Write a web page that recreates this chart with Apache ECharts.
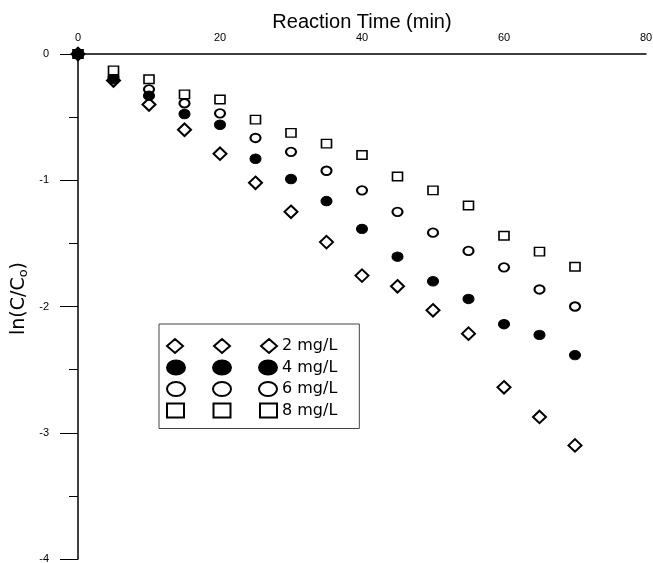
<!DOCTYPE html>
<html>
<head>
<meta charset="utf-8">
<script src="https://cdn.jsdelivr.net/npm/echarts@6/dist/echarts.min.js"></script>
<style>
  html, body { margin: 0; padding: 0; background: #fff; }
  #main { width: 653px; height: 563px; }
</style>
</head>
<body>
<div id="main"></div>
<script>
// reaction time (min)
var times = [0, 5, 10, 15, 20, 25, 30, 35, 40, 45, 50, 55, 60, 65, 70];
// ln(C/Co) for each dose
var dose2 = [0, -0.21, -0.40, -0.60, -0.79, -1.02, -1.25, -1.49, -1.755, -1.84, -2.03, -2.215, -2.64, -2.875, -3.10];
var dose4 = [0, -0.20, -0.33, -0.475, -0.56, -0.83, -0.99, -1.165, -1.385, -1.605, -1.80, -1.94, -2.14, -2.225, -2.385];
var dose6 = [0, -0.18, -0.28, -0.39, -0.47, -0.665, -0.775, -0.925, -1.08, -1.25, -1.415, -1.56, -1.69, -1.865, -2.00];
var dose8 = [0, -0.13, -0.20, -0.32, -0.36, -0.52, -0.625, -0.71, -0.80, -0.97, -1.08, -1.20, -1.44, -1.565, -1.685];
var names = ['2 mg/L', '4 mg/L', '6 mg/L', '8 mg/L'];

var chart = echarts.init(document.getElementById('main'));

function pairs(ys) {
  var out = [];
  for (var i = 0; i < times.length; i++) out.push([times[i], ys[i]]);
  return out;
}

// legend icons: same shape three times in a row, box 110 x 14
var ICON_W = 110, ICON_H = 14;
function triple(w, one) {
  var cs = [w / 2, ICON_W / 2, ICON_W - w / 2];
  var s = 'path://';
  for (var i = 0; i < 3; i++) s += one(cs[i], w);
  return s;
}
var diamondIcon = triple(16, function (c, w) {
  var h = w / 2;
  return 'M' + c + ' 0L' + (c + h) + ' 7L' + c + ' 14L' + (c - h) + ' 7Z';
});
var circleIcon = triple(18, function (c, w) {
  var r = w / 2;
  return 'M' + (c - r) + ' 7A' + r + ' 7 0 1 0 ' + (c + r) + ' 7A' + r + ' 7 0 1 0 ' + (c - r) + ' 7Z';
});
var squareIcon = triple(17, function (c, w) {
  var h = w / 2;
  return 'M' + (c - h) + ' 0L' + (c + h) + ' 0L' + (c + h) + ' 14L' + (c - h) + ' 14Z';
});

var font = 'Liberation Sans, Arial, sans-serif';
var wide = 'DejaVu Sans, sans-serif';

var option = {
  animation: false,
  backgroundColor: '#fff',
  grid: { left: 78, right: 7, top: 54, bottom: 4, outerBoundsMode: 'none', containLabel: false },
  legend: {
    orient: 'vertical',
    left: 159,
    top: 324,
    padding: [14, 22, 10, 7],
    borderColor: '#444',
    borderWidth: 1,
    itemWidth: ICON_W,
    itemHeight: ICON_H,
    itemGap: 5.5,
    symbolKeepAspect: false,
    textStyle: { fontFamily: wide, fontSize: 16, lineHeight: 14, color: '#000' },
    data: [
      { name: names[0], icon: diamondIcon },
      { name: names[1], icon: circleIcon },
      { name: names[2], icon: circleIcon },
      { name: names[3], icon: squareIcon }
    ]
  },
  xAxis: {
    type: 'value',
    position: 'top',
    min: 0, max: 80, interval: 20,
    name: 'Reaction Time (min)',
    nameLocation: 'middle',
    nameGap: 22,
    nameMoveOverlap: false,
    nameTextStyle: { fontFamily: font, fontSize: 20, color: '#000' },
    axisLine: { onZero: false, lineStyle: { color: '#000', width: 1.5 } },
    axisTick: { show: false },
    axisLabel: { fontFamily: font, fontSize: 11, color: '#000', margin: 11 },
    splitLine: { show: false }
  },
  yAxis: {
    type: 'value',
    min: -4, max: 0, interval: 1,
    name: 'ln(C/C{sub|o})',
    nameLocation: 'middle',
    nameGap: 48,
    nameMoveOverlap: false,
    nameTextStyle: {
      fontFamily: wide, fontSize: 19, color: '#000', padding: [0, 0, 0, 16],
      rich: { sub: { fontFamily: wide, fontSize: 13, color: '#000', verticalAlign: 'bottom', padding: [8, 0, 0, 0] } }
    },
    axisLine: { onZero: false, lineStyle: { color: '#000', width: 1.5 } },
    axisTick: { show: true, inside: false, length: 18, lineStyle: { color: '#000', width: 1 } },
    minorTick: { show: true, splitNumber: 2, length: 9, lineStyle: { color: '#000', width: 1 } },
    axisLabel: { fontFamily: font, fontSize: 11, color: '#000', margin: 29 },
    splitLine: { show: false }
  },
  series: [
    {
      name: names[0], type: 'scatter', symbol: 'diamond', symbolSize: [13, 12.5], z: 2,
      itemStyle: { color: '#fff', borderColor: '#000', borderWidth: 2, opacity: 1 },
      data: pairs(dose2)
    },
    {
      name: names[1], type: 'scatter', symbol: 'circle', symbolSize: [11, 9.5], z: 4,
      itemStyle: { color: '#000', borderColor: '#000', borderWidth: 1, opacity: 1 },
      data: pairs(dose4)
    },
    {
      name: names[2], type: 'scatter', symbol: 'circle', symbolSize: [10, 8.5], z: 2,
      itemStyle: { color: '#fff', borderColor: '#000', borderWidth: 2, opacity: 1 },
      data: pairs(dose6)
    },
    {
      name: names[3], type: 'scatter', symbol: 'rect', symbolSize: [10, 8.5], z: 2,
      itemStyle: { color: '#fff', borderColor: '#000', borderWidth: 1.5, opacity: 1 },
      data: pairs(dose8)
    }
  ]
};

chart.setOption(option);
</script>
</body>
</html>
